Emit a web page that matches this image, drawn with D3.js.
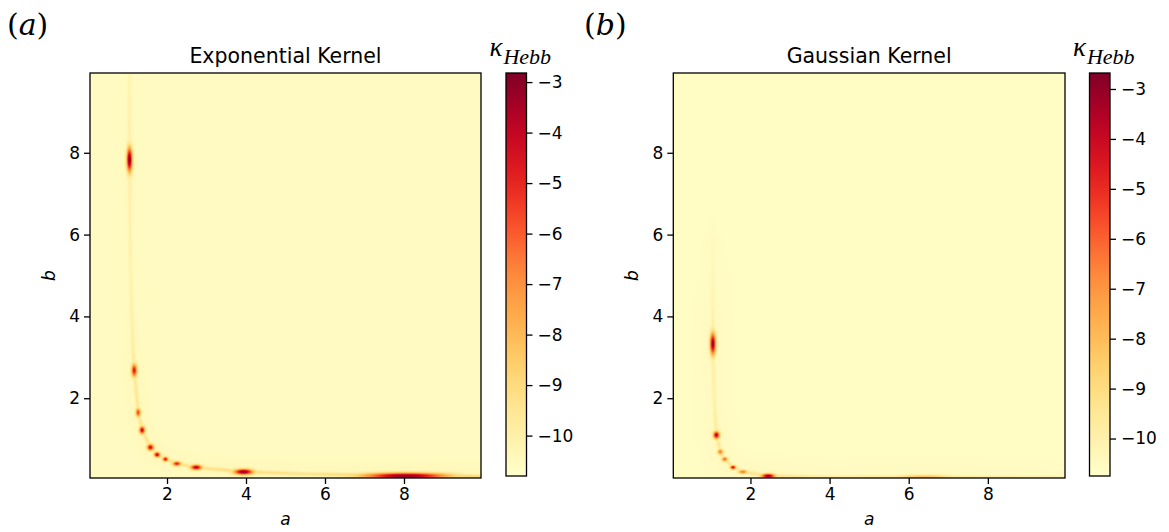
<!DOCTYPE html>
<html lang="en">
<head>
<meta charset="UTF-8">
<title>kappa Hebb maps</title>
<script src="https://cdn.jsdelivr.net/npm/d3@7"></script>
<style>
    body { margin: 0; background: #fff; }
    svg text { font-family: "DejaVu Sans", sans-serif; fill: #000; }
</style>
</head>
<body>
<script>
    // ----- data -----
    const axisDomain = [0.05, 9.95];          // a and b both run over this range
    const tickValues = [2, 4, 6, 8];
    const cbTicks = [-10, -9, -8, -7, -6, -5, -4, -3];

    const panelTitles = ["Exponential Kernel", "Gaussian Kernel"];
    const panelTags = ["a", "b"];
    const cbDomains = [[-10.8, -2.82], [-10.75, -2.68]];
    const bgValues = [-10.55, -10.55];

    // ridge of raised kappa (points along the curve, value on the ridge)
    const ridgeExpA = [1.05, 1.05, 1.08, 1.13, 1.17, 1.27, 1.37, 1.58, 1.75, 1.96, 2.25, 2.74, 3.94, 5.5, 8.04, 9.95];
    const ridgeExpB = [9.95, 7.83, 5.0, 3.4, 2.68, 1.65, 1.22, 0.80, 0.62, 0.51, 0.40, 0.31, 0.20, 0.15, 0.10, 0.09];
    const ridgeExpV = [-10.2, -9.9, -10.1, -9.9, -9.6, -9.5, -9.4, -9.3, -9.3, -9.3, -9.3, -9.3, -9.1, -9.4, -8.6, -8.9];

    const ridgeGauA = [1.05, 1.05, 1.05, 1.08, 1.14, 1.24, 1.35, 1.56, 1.81, 2.45, 4.0, 6.4, 9.95];
    const ridgeGauB = [6.5, 4.5, 3.33, 2.0, 1.10, 0.69, 0.51, 0.31, 0.20, 0.10, 0.08, 0.07, 0.06];
    const ridgeGauV = [-10.55, -10.2, -9.7, -10.0, -9.6, -9.5, -9.4, -9.4, -9.4, -9.3, -9.9, -9.5, -10.0];

    // hot spots: centre (a, b), peak value, spread along a and b
    const spotExpA = [1.05, 1.17, 1.27, 1.37, 1.58, 1.75, 1.96, 2.25, 2.74, 3.94, 8.04];
    const spotExpB = [7.83, 2.68, 1.65, 1.22, 0.80, 0.62, 0.51, 0.40, 0.31, 0.20, 0.10];
    const spotExpV = [-2.9, -4.6, -5.6, -4.0, -4.2, -4.0, -4.6, -4.8, -3.8, -3.0, -3.0];
    const spotExpSa = [0.05, 0.05, 0.045, 0.05, 0.06, 0.055, 0.05, 0.075, 0.1, 0.17, 0.75];
    const spotExpSb = [0.21, 0.11, 0.075, 0.065, 0.055, 0.045, 0.04, 0.04, 0.045, 0.05, 0.055];

    const spotGauA = [1.05, 1.14, 1.24, 1.35, 1.56, 1.81, 2.45, 6.4];
    const spotGauB = [3.33, 1.10, 0.69, 0.51, 0.31, 0.20, 0.10, 0.07];
    const spotGauV = [-3.0, -3.5, -6.5, -6.0, -4.0, -6.5, -3.0, -8.0];
    const spotGauSa = [0.05, 0.055, 0.05, 0.05, 0.05, 0.08, 0.12, 0.5];
    const spotGauSb = [0.19, 0.065, 0.05, 0.04, 0.035, 0.035, 0.04, 0.04];

    const ridges = [
        { a: ridgeExpA, b: ridgeExpB, v: ridgeExpV },
        { a: ridgeGauA, b: ridgeGauB, v: ridgeGauV }
    ];
    const spots = [
        d3.range(spotExpA.length).map(i => ({ a: spotExpA[i], b: spotExpB[i], v: spotExpV[i], sa: spotExpSa[i], sb: spotExpSb[i] })),
        d3.range(spotGauA.length).map(i => ({ a: spotGauA[i], b: spotGauB[i], v: spotGauV[i], sa: spotGauSa[i], sb: spotGauSb[i] }))
    ];

    // ----- layout -----
    const W = 1169, H = 532;
    const plotTop = 73, plotBottom = 478;
    const layout = [
        { x0: 90, x1: 481, cbX: 506, tagX: 7 },
        { x0: 673.3, x1: 1065, cbX: 1089.5, tagX: 584 }
    ];
    const cbW = 20.5, cbTop = 73, cbBottom = 476;

    const svg = d3.select("body").append("svg")
        .attr("width", W).attr("height", H);
    const defs = svg.append("defs");

    layout.forEach((L, k) => {
        const x = d3.scaleLinear().domain(axisDomain).range([L.x0, L.x1]);
        const y = d3.scaleLinear().domain(axisDomain).range([plotBottom, plotTop]);
        const cbScale = d3.scaleLinear().domain(cbDomains[k]).range([cbBottom, cbTop]);
        const color = d3.scaleSequential(d3.interpolateYlOrRd).domain(cbDomains[k]);
        const bg = bgValues[k];

        // colour lookup table
        const lut = d3.range(256).map(i => d3.rgb(color(cbDomains[k][0] + (cbDomains[k][1] - cbDomains[k][0]) * i / 255)));
        const toIdx = v => Math.max(0, Math.min(255, Math.round((v - cbDomains[k][0]) / (cbDomains[k][1] - cbDomains[k][0]) * 255)));

        // ridge in pixel coordinates
        const R = ridges[k];
        const rp = R.a.map((a, i) => [x(a), y(R.b[i]), R.v[i]]);
        const sp = spots[k];

        const w = Math.round(L.x1 - L.x0), h = plotBottom - plotTop;
        const canvas = document.createElement("canvas");
        canvas.width = w; canvas.height = h;
        const ctx = canvas.getContext("2d");
        const img = ctx.createImageData(w, h);

        for (let j = 0; j < h; j++) {
            const py = plotTop + j + 0.5;
            const bv = y.invert(py);
            for (let i = 0; i < w; i++) {
                const px = L.x0 + i + 0.5;
                const av = x.invert(px);
                let best = 0;
                // ridge: nearest segment
                let dmin = Infinity, rv = bg;
                for (let s = 0; s < rp.length - 1; s++) {
                    const [ax, ay, va] = rp[s], [bx, by, vb] = rp[s + 1];
                    const dx = bx - ax, dy = by - ay;
                    let t = ((px - ax) * dx + (py - ay) * dy) / (dx * dx + dy * dy);
                    t = Math.max(0, Math.min(1, t));
                    const d = Math.hypot(px - ax - t * dx, py - ay - t * dy);
                    if (d < dmin) { dmin = d; rv = va + (vb - va) * t; }
                }
                const amp = Math.max(0, rv - bg);
                best = Math.max(best, amp * Math.exp(-dmin * dmin / (2 * 1.5 * 1.5)));
                best = Math.max(best, 0.1 * amp * Math.exp(-dmin * dmin / (2 * 9 * 9)));
                // spots
                for (const p of sp) {
                    const da = (av - p.a) / p.sa, db = (bv - p.b) / p.sb;
                    const e = da * da + db * db;
                    if (e < 30) best = Math.max(best, (p.v - bg) * Math.exp(-0.5 * e));
                }
                const c = lut[toIdx(bg + best)];
                const o = (j * w + i) * 4;
                img.data[o] = c.r; img.data[o + 1] = c.g; img.data[o + 2] = c.b; img.data[o + 3] = 255;
            }
        }
        ctx.putImageData(img, 0, 0);

        const g = svg.append("g");
        g.append("image")
            .attr("x", L.x0).attr("y", plotTop)
            .attr("width", L.x1 - L.x0).attr("height", h)
            .attr("preserveAspectRatio", "none")
            .attr("href", canvas.toDataURL());

        // axes
        const xAxis = d3.axisBottom(x).tickValues(tickValues).tickSize(6).tickPadding(4).tickFormat(d3.format("d"));
        const yAxis = d3.axisLeft(y).tickValues(tickValues).tickSize(6).tickPadding(4).tickFormat(d3.format("d"));
        [[xAxis, `translate(0,${plotBottom})`], [yAxis, `translate(${L.x0},0)`]].forEach(([ax, tr]) => {
            const a = g.append("g").attr("transform", tr).call(ax);
            a.select(".domain").remove();
            a.selectAll(".tick line").attr("stroke", "#000").attr("stroke-width", 1.3);
            a.selectAll(".tick text").attr("font-size", 17).attr("font-family", "DejaVu Sans");
        });
        g.append("rect")
            .attr("x", L.x0).attr("y", plotTop)
            .attr("width", L.x1 - L.x0).attr("height", h)
            .attr("fill", "none").attr("stroke", "#000").attr("stroke-width", 1.3);

        g.append("text")
            .attr("x", (L.x0 + L.x1) / 2).attr("y", 63)
            .attr("text-anchor", "middle").attr("font-size", 20.5)
            .text(panelTitles[k]);
        g.append("text")
            .attr("x", (L.x0 + L.x1) / 2).attr("y", 525)
            .attr("text-anchor", "middle").attr("font-size", 17).attr("font-style", "italic")
            .text("a");
        g.append("text")
            .attr("transform", `translate(${L.x0 - 35},${(plotTop + plotBottom) / 2}) rotate(-90)`)
            .attr("text-anchor", "middle").attr("font-size", 17).attr("font-style", "italic")
            .text("b");

        // panel tag
        const tag = g.append("text")
            .attr("x", L.tagX).attr("y", 35)
            .attr("font-size", 30)
            .style("font-family", "'DejaVu Serif', serif");
        tag.append("tspan").text("(");
        tag.append("tspan").attr("font-style", "italic").text(panelTags[k]);
        tag.append("tspan").text(")");

        // colour bar
        const gid = "cbgrad" + k;
        const grad = defs.append("linearGradient").attr("id", gid)
            .attr("x1", 0).attr("y1", 1).attr("x2", 0).attr("y2", 0);
        d3.range(0, 1.0001, 0.05).forEach(t => {
            grad.append("stop").attr("offset", t)
                .attr("stop-color", color(cbDomains[k][0] + t * (cbDomains[k][1] - cbDomains[k][0])));
        });
        g.append("rect")
            .attr("x", L.cbX).attr("y", cbTop)
            .attr("width", cbW).attr("height", cbBottom - cbTop)
            .attr("fill", `url(#${gid})`)
            .attr("stroke", "#000").attr("stroke-width", 1.3);
        const cbAxis = d3.axisRight(cbScale).tickValues(cbTicks).tickSize(6).tickPadding(5);
        const ca = g.append("g").attr("transform", `translate(${L.cbX + cbW},0)`).call(cbAxis);
        ca.select(".domain").remove();
        ca.selectAll(".tick line").attr("stroke", "#000").attr("stroke-width", 1.3);
        ca.selectAll(".tick text").attr("font-size", 17).attr("font-family", "DejaVu Sans");

        // colour bar title kappa_Hebb
        const kt = g.append("text")
            .attr("x", L.cbX + cbW / 2 + 4).attr("y", 56)
            .attr("text-anchor", "middle")
            .style("font-family", "'Liberation Serif', serif").attr("font-style", "italic");
        kt.append("tspan").attr("font-size", 27).text("κ");
        kt.append("tspan").attr("font-size", 22).attr("dy", 8).attr("dx", 1).text("Hebb");
    });
</script>
</body>
</html>
